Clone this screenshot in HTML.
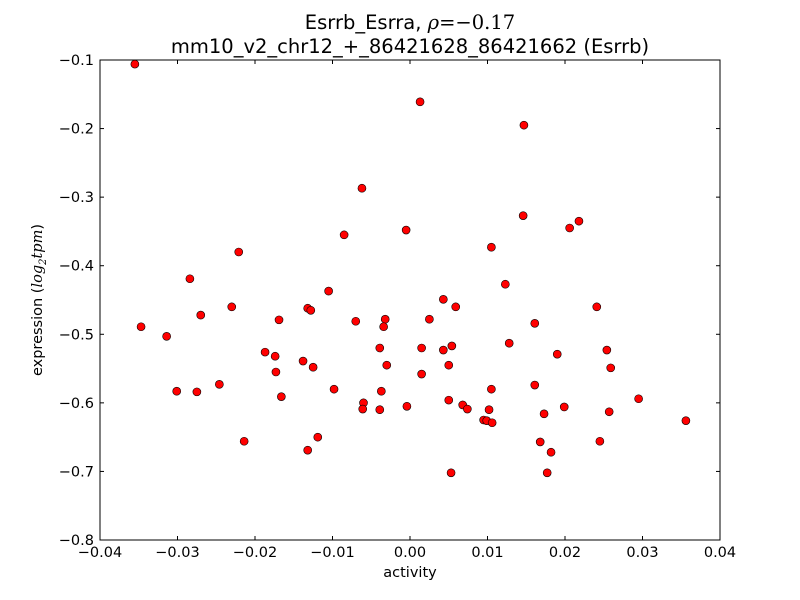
<!DOCTYPE html>
<html><head><meta charset="utf-8">
<style>
html,body{margin:0;padding:0;background:#fff;}
svg{display:block;font-family:"DejaVu Sans","Liberation Sans",sans-serif;}
</style></head>
<body>
<svg id="chart" width="800" height="600">
<rect width="800" height="600" fill="#fff"/>
<text x="410" y="29" text-anchor="middle" font-size="19.5">Esrrb_Esrra, <tspan font-family="DejaVu Serif" font-style="italic">ρ</tspan><tspan font-family="DejaVu Serif">=−0.17</tspan></text>
<text x="410" y="53" text-anchor="middle" font-size="19.5">mm10_v2_chr12_+_86421628_86421662 (Esrrb)</text>
<g id="pts"></g>
<rect x="100" y="60" width="620" height="480" fill="none" stroke="#000" stroke-width="1"/>
<g id="axes"></g>
<text x="410" y="577" text-anchor="middle" font-size="14.5">activity</text>
<text transform="translate(42,300) rotate(-90)" text-anchor="middle" font-size="14.5">expression (<tspan font-family="DejaVu Serif" font-style="italic">log</tspan><tspan font-family="DejaVu Serif" font-style="italic" font-size="10" dy="4">2</tspan><tspan font-family="DejaVu Serif" font-style="italic" dy="-4">tpm</tspan>)</text>
</svg>
<script>
const xVals=[-0.0355,0.0013,0.0147,-0.0062,0.0146,0.0218,0.0206,-0.0005,-0.0085,0.0105,-0.0221,-0.0284,0.0123,-0.0105,0.0043,-0.027,-0.023,0.0059,0.0241,-0.0132,-0.0128,-0.0347,-0.0169,-0.007,-0.0032,0.0025,-0.0034,0.0161,-0.0314,0.0128,0.0054,-0.0039,0.0015,0.0043,0.0254,-0.0187,0.019,-0.0174,-0.0138,-0.003,0.005,-0.0125,0.0259,-0.0173,0.0015,-0.0246,0.0161,-0.0098,0.0105,-0.0301,-0.0275,-0.0037,-0.0166,0.0295,0.005,-0.006,0.0068,-0.0004,0.0199,-0.0061,0.0074,-0.0039,0.0102,0.0257,0.0173,0.0095,0.0099,0.0356,0.0106,-0.0119,-0.0214,0.0245,0.0168,-0.0132,0.0182,0.0053,0.0177];
const yVals=[-0.106,-0.161,-0.195,-0.287,-0.327,-0.335,-0.345,-0.348,-0.355,-0.373,-0.380,-0.419,-0.427,-0.437,-0.449,-0.472,-0.460,-0.460,-0.460,-0.462,-0.465,-0.489,-0.479,-0.481,-0.478,-0.478,-0.489,-0.484,-0.503,-0.513,-0.517,-0.520,-0.520,-0.523,-0.523,-0.526,-0.529,-0.532,-0.539,-0.545,-0.545,-0.548,-0.549,-0.555,-0.558,-0.573,-0.574,-0.580,-0.580,-0.583,-0.584,-0.583,-0.591,-0.594,-0.596,-0.600,-0.603,-0.605,-0.606,-0.609,-0.609,-0.610,-0.610,-0.613,-0.616,-0.625,-0.626,-0.626,-0.629,-0.650,-0.656,-0.656,-0.657,-0.669,-0.672,-0.702,-0.702];
const xTicks=[-0.04,-0.03,-0.02,-0.01,0.00,0.01,0.02,0.03,0.04];
const xTickLabels=["−0.04","−0.03","−0.02","−0.01","0.00","0.01","0.02","0.03","0.04"];
const yTicks=[-0.1,-0.2,-0.3,-0.4,-0.5,-0.6,-0.7,-0.8];
const yTickLabels=["−0.1","−0.2","−0.3","−0.4","−0.5","−0.6","−0.7","−0.8"];
const NS="http://www.w3.org/2000/svg";
const sx=v=>100+(v+0.04)/0.08*620;
const sy=v=>60+(-0.1-v)/0.7*480;
const pts=document.getElementById('pts');
xVals.forEach((x,i)=>{
 const c=document.createElementNS(NS,'circle');
 c.setAttribute('cx',sx(x));c.setAttribute('cy',sy(yVals[i]));c.setAttribute('r',4);
 c.setAttribute('fill','#ff0000');c.setAttribute('stroke','#000');c.setAttribute('stroke-width','0.6');
 
 
 pts.appendChild(c);
});
const ax=document.getElementById('axes');
function ln(x1,y1,x2,y2){const l=document.createElementNS(NS,'line');l.setAttribute('x1',x1);l.setAttribute('y1',y1);l.setAttribute('x2',x2);l.setAttribute('y2',y2);l.setAttribute('stroke','#000');ax.appendChild(l);return l;}
xTicks.forEach((t,i)=>{
 const x=sx(t);ln(x,540,x,536);ln(x,60,x,64);
 const tx=document.createElementNS(NS,'text');
 tx.setAttribute('x',x);tx.setAttribute('y',557);tx.setAttribute('text-anchor','middle');tx.setAttribute('font-size','14.5');
 tx.textContent=xTickLabels[i];
 
 
 ax.appendChild(tx);
});
yTicks.forEach((t,i)=>{
 const y=sy(t);ln(100,y,104,y);ln(720,y,716,y);
 const tx=document.createElementNS(NS,'text');
 tx.setAttribute('x',94);tx.setAttribute('y',y+5);tx.setAttribute('text-anchor','end');tx.setAttribute('font-size','14.5');
 tx.textContent=yTickLabels[i];
 
 
 ax.appendChild(tx);
});
</script>
</body></html>
